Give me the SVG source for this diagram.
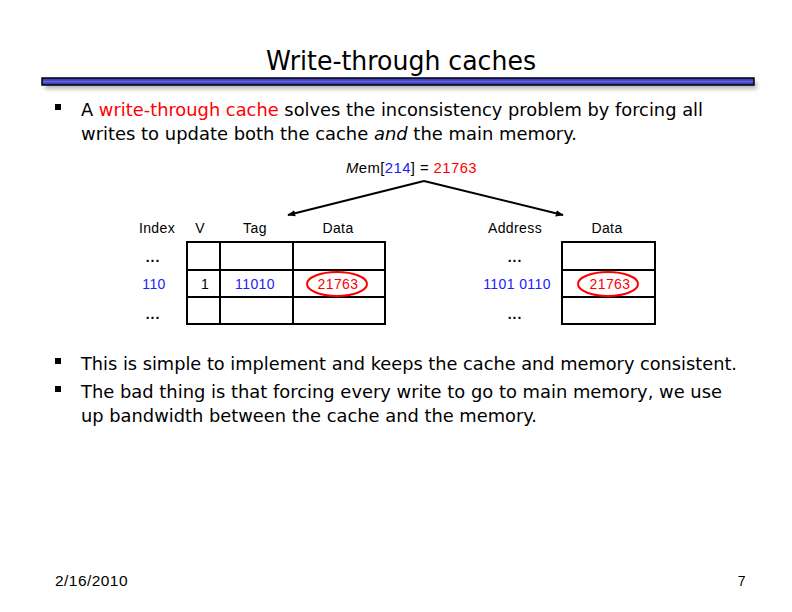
<svg xmlns="http://www.w3.org/2000/svg" width="792" height="612" viewBox="0 0 792 612">
<defs>
<marker id="ah" viewBox="0 0 10 10" refX="9" refY="5" markerWidth="8" markerHeight="8" markerUnits="userSpaceOnUse" orient="auto">
<path d="M0,1 L10,5 L0,9 Z" fill="#000"/>
</marker>
<filter id="sh" x="-5%" y="-100%" width="110%" height="400%">
<feGaussianBlur stdDeviation="2"/>
</filter>
</defs>
<style>
.t{font-family:"DejaVu Sans","Liberation Sans",sans-serif;fill:#000}
.b{font-size:17px}
.s{font-family:"Liberation Sans",Arial,sans-serif;font-size:14px;letter-spacing:0.4px;fill:#000}
.d{font-weight:bold;letter-spacing:1px}
.blue{fill:#2020ff}
.red{fill:#ff0000}
.cell{fill:none;stroke:#000;stroke-width:2}
.ov{fill:none;stroke:#ff0000;stroke-width:2}
.conn{stroke:#000;stroke-width:2;fill:none}
</style>
<rect width="792" height="612" fill="#fff"/>
<g id="title">
<text class="t" x="401" y="70" font-size="26" text-anchor="middle" textLength="270" lengthAdjust="spacingAndGlyphs">Write-through caches</text>
<rect x="45" y="82" width="712" height="7" fill="#888" opacity="0.6" filter="url(#sh)"/>
<rect x="42" y="78" width="712" height="7" fill="#4040c0" stroke="#000" stroke-width="1.5"/>
<line x1="43" y1="81.5" x2="753" y2="81.5" stroke="#6a6ae0" stroke-width="1.5"/>
</g>
<g id="bullets">
<rect x="55" y="104" width="6" height="6" fill="#000"/>
<text class="t b" x="81" y="116" textLength="622" lengthAdjust="spacingAndGlyphs">A <tspan class="red">write-through cache</tspan> solves the inconsistency problem by forcing all</text>
<text class="t b" x="81" y="140" textLength="496" lengthAdjust="spacingAndGlyphs">writes to update both the cache <tspan font-style="italic">and</tspan> the main memory.</text>
<rect x="55" y="358" width="6" height="6" fill="#000"/>
<text class="t b" x="81" y="370" textLength="656" lengthAdjust="spacingAndGlyphs">This is simple to implement and keeps the cache and memory consistent.</text>
<rect x="55" y="386" width="6" height="6" fill="#000"/>
<text class="t b" x="81" y="398" textLength="641" lengthAdjust="spacingAndGlyphs">The bad thing is that forcing every write to go to main memory, we use</text>
<text class="t b" x="81" y="422" textLength="456" lengthAdjust="spacingAndGlyphs">up bandwidth between the cache and the memory.</text>
</g>
<g id="mem-write">
<text class="s" x="346" y="173" textLength="131" lengthAdjust="spacingAndGlyphs"><tspan font-style="italic">M</tspan>em[<tspan class="blue">214</tspan>] = <tspan class="red">21763</tspan></text>
</g>
<g id="connectors">
<path class="conn" d="M424,181 L288,215" marker-end="url(#ah)"/>
<path class="conn" d="M424,181 L563,215" marker-end="url(#ah)"/>
</g>
<g id="cache">
<text class="s" x="157" y="233" text-anchor="middle">Index</text>
<text class="s" x="200" y="233" text-anchor="middle">V</text>
<text class="s" x="255" y="233" text-anchor="middle">Tag</text>
<text class="s" x="338" y="233" text-anchor="middle">Data</text>
<rect class="cell" x="187" y="242" width="198" height="82"/>
<line class="cell" x1="187" y1="270" x2="385" y2="270"/>
<line class="cell" x1="187" y1="297" x2="385" y2="297"/>
<line class="cell" x1="220" y1="242" x2="220" y2="324"/>
<line class="cell" x1="293" y1="242" x2="293" y2="324"/>
<text class="s d" x="153" y="262" text-anchor="middle">...</text>
<text class="s blue" x="154" y="289" text-anchor="middle">110</text>
<text class="s" x="205" y="289" text-anchor="middle">1</text>
<text class="s blue" x="255" y="289" text-anchor="middle">11010</text>
<ellipse class="ov" cx="337" cy="284" rx="30" ry="12"/>
<text class="s red" x="338" y="289" text-anchor="middle">21763</text>
<text class="s d" x="153" y="319" text-anchor="middle">...</text>
</g>
<g id="memory">
<text class="s" x="515" y="233" text-anchor="middle">Address</text>
<text class="s" x="607" y="233" text-anchor="middle">Data</text>
<rect class="cell" x="562" y="242" width="93" height="82"/>
<line class="cell" x1="562" y1="270" x2="655" y2="270"/>
<line class="cell" x1="562" y1="297" x2="655" y2="297"/>
<text class="s d" x="515" y="262" text-anchor="middle">...</text>
<text class="s blue" x="517" y="289" text-anchor="middle">1101 0110</text>
<ellipse class="ov" cx="608" cy="284" rx="30" ry="12"/>
<text class="s red" x="610" y="289" text-anchor="middle">21763</text>
<text class="s d" x="515" y="319" text-anchor="middle">...</text>
</g>
<g id="footer">
<text class="s" x="55" y="586" textLength="73" lengthAdjust="spacingAndGlyphs">2/16/2010</text>
<text class="s" x="746" y="586" text-anchor="end">7</text>
</g>
</svg>
